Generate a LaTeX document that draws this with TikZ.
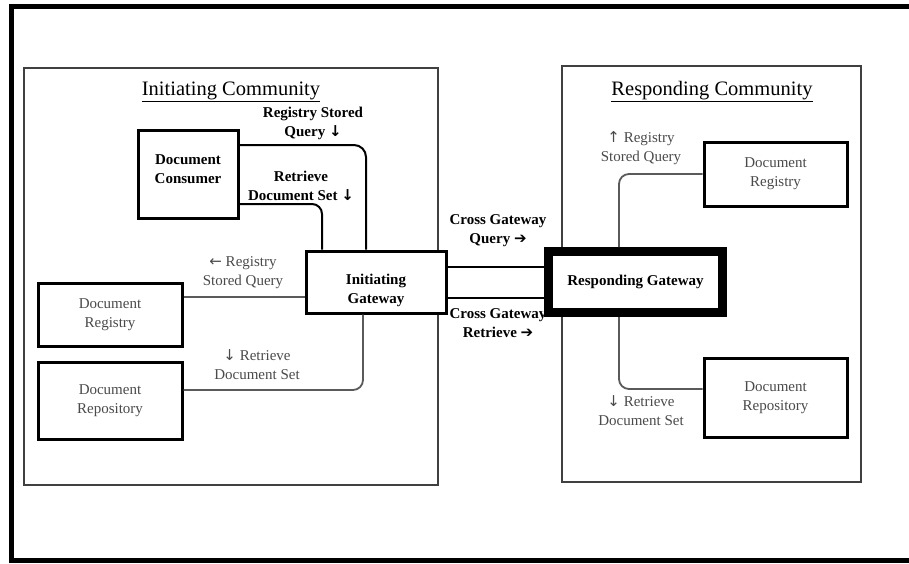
\documentclass[tikz,border=0pt]{standalone}
\usepackage{fontspec}
\setmainfont{Liberation Serif}
\newfontfamily\arrowfont{DejaVu Sans}
\usetikzlibrary{calc}
\definecolor{txtgray}{HTML}{4A4A4A}
\definecolor{lingray}{HTML}{5A5A5A}
\definecolor{boxgray}{HTML}{404040}
\tikzset{
  title/.style={font=\fontsize{20.5}{24}\selectfont, inner sep=0pt},
  blkbox/.style={draw=black, line width=3pt, fill=white, align=center, inner sep=0pt,
                 font=\fontsize{15}{19}\selectfont\bfseries},
  docbox/.style={draw=black, line width=3pt, fill=white, align=center, inner sep=0pt,
                 text=txtgray, font=\fontsize{15}{19}\selectfont},
  rgbox/.style={draw=black, line width=9pt, fill=white, align=center, inner sep=0pt,
                 font=\fontsize{15}{19}\selectfont\bfseries},
  blabel/.style={align=center, inner sep=0pt, font=\fontsize{15}{19}\selectfont\bfseries},
  glabel/.style={align=center, inner sep=0pt, text=txtgray, font=\fontsize{15}{19}\selectfont},
  conn/.style={draw=black, line width=2pt},
  xconn/.style={draw=black, line width=1.6pt},
  gconn/.style={draw=lingray, line width=1.8pt},
}
\begin{document}
\begin{tikzpicture}[x=1pt,y=-1pt]
\useasboundingbox (0,0) rectangle (909,563);
\begin{scope}
\clip (0,0) rectangle (909,563);
\draw[line width=5pt] (11.5,6.5) rectangle (930,560.5);
\end{scope}
% communities
\node[draw=boxgray, line width=1.2pt, minimum width=414pt, minimum height=417pt, inner sep=0pt] (icbox) at (231,276.5) {};
\node[draw=boxgray, line width=1.2pt, minimum width=299pt, minimum height=416pt, inner sep=0pt] (rcbox) at (711.5,274) {};
\node[title, anchor=base] (ictitle) at (231,95) {\underline{Initiating Community}};
\node[title, anchor=base] (rctitle) at (712,95) {\underline{Responding Community}};
% nodes
\node[blkbox, minimum width=100pt, minimum height=88pt] (dc) at (188,174) {};
\node[blabel] (dct) at ([yshift=5pt]dc.center) {Document\\Consumer};
\node[blkbox, minimum width=140pt, minimum height=62pt] (ig) at (376,282) {};
\node[blabel] (igt) at ([yshift=-8pt]ig.center) {Initiating\\Gateway};
\node[docbox, minimum width=144pt, minimum height=63pt] (dreg) at (110,314.5) {Document\\Registry};
\node[docbox, minimum width=144pt, minimum height=77pt] (drep) at (110,400.5) {Document\\Repository};
\node[rgbox, minimum width=174pt, minimum height=61pt] (rg) at (635.5,282) {Responding Gateway};
\node[docbox, minimum width=143pt, minimum height=64pt] (rreg) at (775.5,174) {Document\\Registry};
\node[docbox, minimum width=143pt, minimum height=79pt] (rrep) at (775.5,397.5) {Document\\Repository};
% connectors
\draw[conn, rounded corners=12pt] ([yshift=29pt]dc.east) -| ([xshift=-10pt]ig.north);
\draw[conn, rounded corners=10pt] ([yshift=-30pt]dc.east) -| ([xshift=-54pt]ig.north);
\coordinate (a1) at ([yshift=-15pt]ig.west);
\draw[gconn] (a1) -- (a1 -| dreg.east);
\draw[gconn, rounded corners=10pt] ([yshift=10.5pt]drep.east) -| ([xshift=-13pt]ig.south);
\coordinate (q1) at ([yshift=15pt]ig.east);
\coordinate (q2) at ([yshift=-16pt]ig.east);
\draw[xconn] (q1) -- (q1 -| rg.west);
\draw[xconn] (q2) -- (q2 -| rg.west);
\draw[gconn, rounded corners=10pt] (rreg.west) -| ([xshift=-16.5pt]rg.north);
\draw[gconn, rounded corners=10pt] ([xshift=-16.5pt]rg.south) |- ([yshift=8.5pt]rrep.west);
% labels
\node[blabel] (l1) at (313,123.5) {Registry Stored\\Query {\arrowfont\bfseries ↓}};
\node[blabel] (l2) at (301,185.5) {Retrieve\\Document Set {\arrowfont\bfseries ↓}};
\node[glabel] (l3) at (243,273) {{\arrowfont ←} Registry\\Stored Query};
\node[glabel] (l4) at (257,364.5) {{\arrowfont ↓} Retrieve\\Document Set};
\node[blabel] (l5) at (498,230.5) {Cross Gateway\\Query {\arrowfont\bfseries ➔}};
\node[blabel] (l6) at (498,323.5) {Cross Gateway\\Retrieve {\arrowfont\bfseries ➔}};
\node[glabel] (l7) at (641,148.5) {{\arrowfont ↑} Registry\\Stored Query};
\node[glabel] (l8) at (641,410.5) {{\arrowfont ↓} Retrieve\\Document Set};
\end{tikzpicture}
\end{document}
